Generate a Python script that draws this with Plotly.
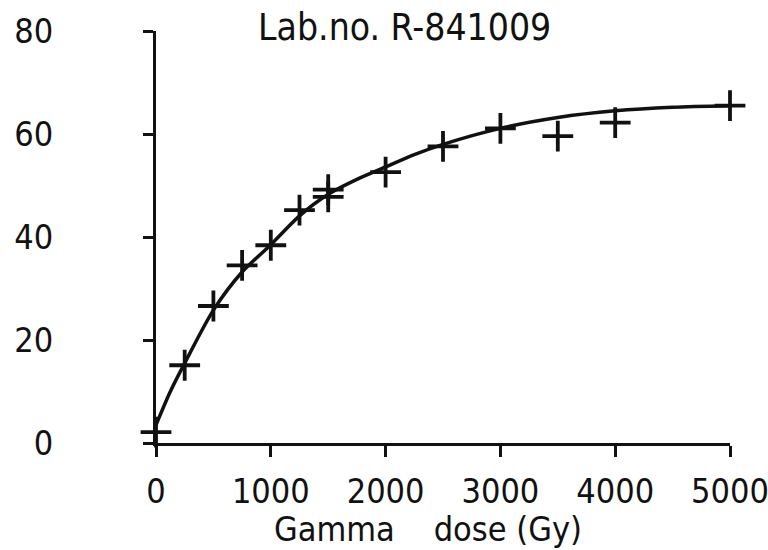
import plotly.graph_objects as go

# Measured points (gamma dose in Gy, response)
dose_pts = [0, 250, 500, 750, 1000, 1250, 1500, 1500, 2000, 2500, 3000, 3500, 4000, 5000]
val_pts = [2.1, 15.1, 26.6, 34.5, 38.4, 45.2, 47.8, 49.2, 52.6, 57.6, 61.1, 59.6, 62.2, 65.5]

# Fitted curve
curve_dose = [0, 125, 250, 500, 750, 1000, 1250, 1500, 1750, 2000, 2250, 2500, 3000, 3500, 4000, 4500, 5000]
curve_val = [3.5, 10.0, 15.5, 25.8, 33.2, 38.5, 44.1, 48.3, 51.2, 53.6, 56.0, 58.0, 61.1, 63.2, 64.5, 65.2, 65.5]

x_ticks = [0, 1000, 2000, 3000, 4000, 5000]
x_ticktext = ["0", "1000", "2000", "3000", "4000", "5000"]
y_ticks = [0, 20, 40, 60, 80]
y_ticktext = ["0", "20", "40", "60", "80"]

title_text = "Lab.no. R-841009"
xlabel_text = "Gamma&nbsp;&nbsp;&nbsp;&nbsp;dose&nbsp;(Gy)"

FONT = "Liberation Sans Narrow, DejaVu Sans Condensed, Arial Narrow, DejaVu Sans, sans-serif"
INK = "#111111"

fig = go.Figure()
fig.add_trace(go.Scatter(
    x=curve_dose, y=curve_val, mode="lines",
    line=dict(color=INK, width=3.5, shape="spline", smoothing=0.8),
    cliponaxis=False, hoverinfo="skip", showlegend=False,
))
fig.add_trace(go.Scatter(
    x=dose_pts, y=val_pts, mode="markers",
    marker=dict(symbol="cross-thin", size=22, line=dict(color=INK, width=3.8)),
    cliponaxis=False, showlegend=False,
))

fig.update_layout(
    width=768, height=550,
    margin=dict(l=156, r=38, t=31, b=107, autoexpand=False),
    paper_bgcolor="white", plot_bgcolor="white",
    font=dict(family=FONT, color=INK),
    xaxis=dict(
        range=[0, 5000], showgrid=False, zeroline=False, automargin=False,
        showline=True, linecolor=INK, linewidth=3,
        ticks="outside", ticklen=11, tickwidth=2.5, tickcolor=INK,
        tickvals=x_ticks, ticktext=x_ticktext,
        tickfont=dict(size=34, family=FONT, color=INK),
        ticklabelstandoff=5, ticklabeloverflow="allow",
    ),
    yaxis=dict(
        range=[0, 80], showgrid=False, zeroline=False, automargin=False,
        showline=True, linecolor=INK, linewidth=3,
        ticks="outside", ticklen=10, tickwidth=2.5, tickcolor=INK,
        tickvals=y_ticks, ticktext=y_ticktext,
        tickfont=dict(size=34, family=FONT, color=INK),
        ticklabelstandoff=83, ticklabeloverflow="allow",
    ),
    annotations=[
        dict(text=title_text, xref="paper", yref="paper",
             x=(404 - 156) / 574, y=1 + (31 - 28) / 412,
             xanchor="center", yanchor="middle", showarrow=False,
             font=dict(size=37, family=FONT, color=INK)),
        dict(text=xlabel_text, xref="paper", yref="paper",
             x=(428 - 156) / 574, y=-(529 - 443) / 412,
             xanchor="center", yanchor="middle", showarrow=False,
             font=dict(size=34, family=FONT, color=INK)),
    ],
)

fig.write_html("out.html", config={"displayModeBar": False},
               post_script="document.body.style.margin='0px';")
